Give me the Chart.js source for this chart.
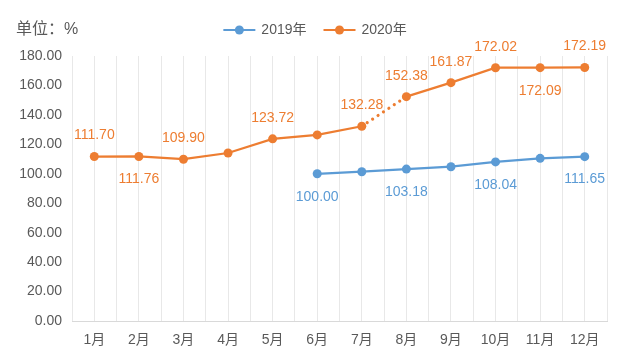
<!DOCTYPE html>
<html><head><meta charset="utf-8">
<script src="https://cdn.jsdelivr.net/npm/chart.js@4/dist/chart.umd.min.js"></script>
<style>html,body{margin:0;padding:0;background:#fff;}</style>
</head><body>
<canvas id="c" width="626" height="357"></canvas>
<script>
const categories = ['1月','2月','3月','4月','5月','6月','7月','8月','9月','10月','11月','12月'];
const series2019 = [null,null,null,null,null,100.00,101.40,103.18,104.80,108.04,110.50,111.65];
const series2020 = [111.70,111.76,109.90,114.10,123.72,126.40,132.28,152.38,161.87,172.02,172.09,172.19];
const seriesNames = ['2019年','2020年'];
const yTicks = {min:0, max:180, step:20};
const unitText = '单位：%';
// which points carry a value label, and on which side
const labelSide2019 = [null,null,null,null,null,'below',null,'below',null,'below',null,'below'];
const labelSide2020 = ['above','below','above',null,'above',null,'above','above','above','above','below','above'];

const BLUE = '#5b9bd5', ORANGE = '#ed7d31', TXT = '#595959';
const FONT = "'Liberation Sans', 'Noto Sans CJK SC', sans-serif";
Chart.defaults.font.family = FONT;
Chart.defaults.font.size = 14;
Chart.defaults.color = TXT;

const toPts = arr => arr.map((v,i) => ({x: i+1, y: v}));

const labelPlugin = {
  id: 'valueLabels',
  afterDatasetsDraw(chart) {
    const ctx = chart.ctx;
    ctx.save();
    ctx.font = '14px ' + FONT;
    ctx.textAlign = 'center';
    ctx.textBaseline = 'middle';
    chart.data.datasets.forEach((ds, di) => {
      const meta = chart.getDatasetMeta(di);
      ctx.fillStyle = ds.borderColor;
      meta.data.forEach((pt, i) => {
        const side = ds.labelSide[i];
        const v = ds.data[i].y;
        if (!side || v === null) return;
        ctx.fillText(v.toFixed(2), pt.x, side === 'above' ? pt.y - 21 : pt.y + 23);
      });
    });
    ctx.restore();
  }
};

const legendPlugin = {
  id: 'customLegend',
  afterDraw(chart) {
    const ctx = chart.ctx;
    ctx.save();
    ctx.textBaseline = 'middle';
    const y = 30;
    // unit text
    ctx.font = '16px ' + FONT;
    ctx.fillStyle = TXT;
    ctx.textAlign = 'left';
    ctx.fillText(unitText, 16, y);
    ctx.font = '14px ' + FONT;
    const ds = chart.data.datasets;
    const lineW = 32, gap = 6, itemGap = 17;
    const widths = ds.map(d => lineW + gap + ctx.measureText(d.label).width);
    const total = widths.reduce((a,b)=>a+b,0) + itemGap*(ds.length-1);
    let x = chart.width/2 + 2 - total/2;
    ds.forEach((d, i) => {
      ctx.strokeStyle = d.borderColor;
      ctx.lineWidth = 2;
      ctx.beginPath(); ctx.moveTo(x, y); ctx.lineTo(x+lineW, y); ctx.stroke();
      ctx.fillStyle = d.borderColor;
      ctx.beginPath(); ctx.arc(x+lineW/2, y, 4.5, 0, Math.PI*2); ctx.fill();
      ctx.fillStyle = TXT;
      ctx.fillText(d.label, x+lineW+gap, y);
      x += widths[i] + itemGap;
    });
    ctx.restore();
  }
};

new Chart(document.getElementById('c'), {
  type: 'line',
  data: {
    datasets: [
      {label: seriesNames[0], data: toPts(series2019), labelSide: labelSide2019,
       borderColor: BLUE, backgroundColor: BLUE, pointBackgroundColor: BLUE, pointBorderColor: BLUE},
      {label: seriesNames[1], data: toPts(series2020), labelSide: labelSide2020,
       borderColor: ORANGE, backgroundColor: ORANGE, pointBackgroundColor: ORANGE, pointBorderColor: ORANGE,
       segment: {
         borderDash: c => c.p0DataIndex === 6 ? [0.001, 6.5] : undefined,
         borderWidth: c => c.p0DataIndex === 6 ? 3.2 : undefined
       }}
    ]
  },
  options: {
    responsive: false,
    animation: false,
    devicePixelRatio: 1,
    layout: {padding: {top: 56, right: 19, bottom: 0, left: 0}},
    elements: {
      line: {borderWidth: 2.25, tension: 0, borderCapStyle: 'round', fill: false},
      point: {radius: 4.5, borderWidth: 0, hoverRadius: 4.5}
    },
    spanGaps: false,
    plugins: {legend: {display: false}, tooltip: {enabled: false}},
    scales: {
      x: {
        type: 'linear', min: 0.5, max: 12.5,
        ticks: {stepSize: 0.5, autoSkip: false, maxRotation: 0, padding: 11,
          callback: v => Number.isInteger(v) ? categories[v-1] : ''},
        grid: {color: '#e8e8e8', drawTicks: false},
        border: {color: '#d9d9d9'},
        afterFit: s => { s.height = 36; }
      },
      y: {
        min: yTicks.min, max: yTicks.max,
        ticks: {stepSize: yTicks.step, padding: 10, callback: v => v.toFixed(2)},
        grid: {display: false, drawTicks: false},
        border: {display: false},
        afterFit: s => { s.width = 72; }
      }
    }
  },
  plugins: [labelPlugin, legendPlugin]
});
</script>
</body></html>
